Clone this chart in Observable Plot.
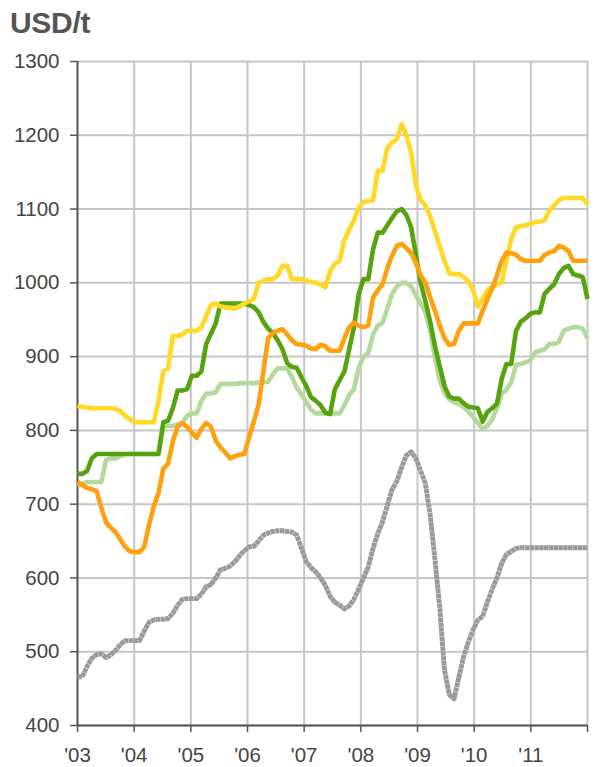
<!DOCTYPE html>
<html>
<head>
<meta charset="utf-8">
<script src="https://cdn.jsdelivr.net/npm/d3@7"></script>
<script src="https://cdn.jsdelivr.net/npm/@observablehq/plot@0.6"></script>
<style>
  html, body { margin: 0; padding: 0; background: #fff; }
  #wrap { position: relative; width: 597px; height: 767px; overflow: hidden; }
  #title { position: absolute; left: 10px; top: 8px; font: bold 30px "Liberation Sans", Arial, sans-serif; line-height: 30px; color: #555; letter-spacing: -0.3px; }
  #chart { position: absolute; left: 0; top: 48px; }
</style>
</head>
<body>
<div id="wrap">
  <div id="title">USD/t</div>
  <div id="chart"></div>
</div>
<script>
// Monthly series, Jan 2003 – Dec 2011 (108 points each)
const yellow = [
  833,832,831,830,830,830,830,830,829,826,820,815,
  811,811,811,811,811,840,880,884,928,928,930,935,
  935,935,940,955,970,972,968,967,966,965,968,972,
  975,978,1000,1003,1005,1005,1010,1023,1023,1005,1005,1005,
  1003,1001,1000,998,994,1016,1026,1030,1058,1072,1085,1102,
  1110,1111,1112,1152,1152,1183,1190,1195,1215,1200,1177,1132,
  1112,1105,1090,1070,1050,1030,1013,1012,1012,1008,1002,990,
  968,978,990,995,998,1000,1030,1060,1075,1077,1078,1080,
  1082,1083,1085,1098,1105,1112,1115,1115,1115,1115,1115,1106
];
const darkGreen = [
  741,741,745,762,768,768,768,768,768,768,768,768,
  768,768,768,768,768,768,811,813,830,854,854,856,
  874,874,880,917,931,945,972,972,972,972,972,972,
  970,967,960,947,938,932,922,910,891,886,885,872,
  860,845,840,834,824,822,856,868,880,910,940,985,
  1005,1005,1045,1068,1068,1078,1088,1097,1100,1092,1075,1038,
  1000,975,947,914,887,860,846,843,843,837,832,831,
  830,812,825,830,836,870,890,890,935,947,952,958,
  960,960,985,992,998,1012,1020,1023,1012,1010,1008,978
];
const lightGreen = [
  725,727,730,730,730,730,760,762,762,765,768,768,
  768,768,768,768,768,768,805,806,806,808,810,820,
  823,823,840,850,850,852,863,863,863,863,864,864,
  864,864,865,865,866,876,884,884,884,872,858,848,
  838,828,823,823,823,823,823,823,834,848,856,885,
  900,905,930,942,946,965,985,995,1000,1000,995,983,
  972,960,935,898,868,850,842,838,836,832,826,818,
  810,802,806,815,830,850,855,865,889,890,892,895,
  906,908,910,917,917,920,935,938,940,940,938,925
];
const orange = [
  730,726,722,720,718,695,675,668,662,652,642,636,
  635,635,642,672,697,715,748,755,785,805,810,805,
  797,790,802,810,805,786,777,770,762,765,767,768,
  791,812,835,880,925,932,935,937,930,922,917,916,
  915,911,910,916,914,908,908,908,925,940,946,942,
  940,942,980,990,998,1020,1037,1050,1053,1047,1040,1027,
  1010,1000,980,962,942,925,916,917,935,945,945,945,
  945,962,978,992,1010,1030,1041,1040,1038,1032,1030,1030,
  1030,1030,1038,1041,1043,1050,1048,1043,1030,1030,1030,1030
];
const gray = [
  466,466,480,491,496,497,492,496,502,510,515,515,
  515,515,528,540,543,544,544,545,552,563,571,572,
  572,572,578,588,591,600,611,613,616,622,630,637,
  642,643,650,658,661,663,664,664,663,662,658,640,
  622,614,608,600,590,575,567,563,558,562,571,585,
  600,615,640,660,676,698,720,731,750,766,771,762,
  745,728,685,625,560,475,442,436,465,493,513,530,
  543,548,567,585,600,620,632,636,640,641,641,641,
  641,641,641,641,641,641,641,641,641,641,641,641
];
const yearTicks = [2003,2004,2005,2006,2007,2008,2009,2010,2011,2012];
const xLabels = ["'03","'04","'05","'06","'07","'08","'09","'10","'11",""];
const yTicks = [400,500,600,700,800,900,1000,1100,1200,1300];

const seriesNames = ["gray","lightGreen","darkGreen","yellow","orange"];
const seriesValues = {gray, lightGreen, darkGreen, yellow, orange};
const seriesColors = {gray:"#9a9a9a", lightGreen:"#b5d99c", darkGreen:"#57a30f", yellow:"#ffd926", orange:"#ffa00f"};

// Category positions spread evenly from Jan '03 (left edge) to Dec '11 (right edge)
const n = yellow.length;
const rows = s => seriesValues[s].map((v, i) => ({t: 2003 + i * 9 / (n - 1), v}));

const lineMarks = seriesNames.map(s => Plot.line(rows(s), {
  x: "t", y: "v",
  stroke: seriesColors[s],
  strokeWidth: s === "gray" ? 4.9 : 4.6,
  strokeDasharray: s === "gray" ? "4.4,0.4" : null,
  strokeLinejoin: "round",
  strokeLinecap: "butt"
}));

const chart = Plot.plot({
  width: 597,
  height: 719,
  marginTop: 13,
  marginBottom: 42,
  marginLeft: 77,
  marginRight: 10,
  x: {domain: [2003, 2012]},
  y: {domain: [400, 1300]},
  style: {fontFamily: "'Liberation Sans', Arial, sans-serif", fontSize: "20.5px", color: "#454545", background: "#fff"},
  marks: [
    Plot.gridY(yTicks, {stroke: "#c6c6c6", strokeOpacity: 1, strokeWidth: 2}),
    Plot.gridX(yearTicks.slice(1), {stroke: "#c6c6c6", strokeOpacity: 1, strokeWidth: 2}),
    Plot.axisY(yTicks, {tickSize: 7, tickPadding: 11, stroke: "#555", strokeWidth: 1.5, fill: "#454545", label: null,
      tickFormat: d => String(d)}),
    Plot.axisX(yearTicks, {tickSize: 7, tickPadding: 15, stroke: "#555", strokeWidth: 1.5, fill: "#454545", label: null,
      tickFormat: (d, i) => xLabels[i]}),
    Plot.ruleX([2003], {stroke: "#555", strokeWidth: 2}),
    Plot.ruleY([400], {stroke: "#555", strokeWidth: 2}),
    ...lineMarks
  ]
});
document.getElementById("chart").appendChild(chart);
</script>
</body>
</html>
